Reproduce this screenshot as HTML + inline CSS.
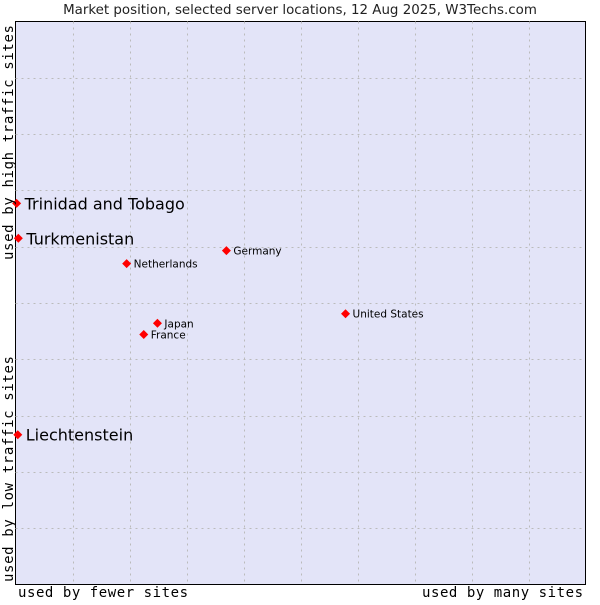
<!DOCTYPE html>
<html><head><meta charset="utf-8"><style>
body{margin:0;background:#fff;}
svg text{font-family:"DejaVu Sans","Liberation Sans",sans-serif;}
.mono{font-family:"DejaVu Sans Mono","Liberation Mono",monospace;}
</style></head><body>
<svg width="600" height="600">
<text x="300" y="14" text-anchor="middle" font-size="13.4" fill="#222">Market position, selected server locations, 12 Aug 2025, W3Techs.com</text>
<rect x="15.5" y="21.5" width="570" height="563" fill="#e3e4f8" stroke="#000"/>
<g id="grid"></g>
<g id="pts"></g>
<text class="mono" x="18" y="597" font-size="14" textLength="170">used by fewer sites</text>
<text class="mono" x="422" y="597" font-size="14" textLength="161">used by many sites</text>
<text class="mono" transform="translate(13,582) rotate(-90)" font-size="14" textLength="226">used by low traffic sites</text>
<text class="mono" transform="translate(13,260) rotate(-90)" font-size="14" textLength="235">used by high traffic sites</text>
</svg>
<script>
const names=["Trinidad and Tobago","Turkmenistan","Netherlands","Germany","United States","Japan","France","Liechtenstein"];
const xVals=[0.2,0.5,19.5,37.0,57.9,24.9,22.5,0.4];
const yVals=[67.7,61.5,57.0,59.3,48.1,46.4,44.4,26.6];
const highlighted=[true,true,false,false,false,false,false,true];
const L=15.5,R=585.5,T=21.5,B=584.5;
const sx=v=>L+v/100*(R-L), sy=v=>B-v/100*(B-T);
const NS="http://www.w3.org/2000/svg";
const g=document.getElementById('grid');
for(let i=1;i<10;i++){
 let l=document.createElementNS(NS,'line');
 let x=Math.round(sx(i*10))+0.5;
 l.setAttribute('x1',x);l.setAttribute('x2',x);l.setAttribute('y1',T);l.setAttribute('y2',B);
 l.setAttribute('stroke','#bbb');l.setAttribute('stroke-dasharray','2,4');
 
 
 g.appendChild(l);
 let h=document.createElementNS(NS,'line');
 let y=Math.round(sy(i*10))+0.5;
 h.setAttribute('y1',y);h.setAttribute('y2',y);h.setAttribute('x1',L);h.setAttribute('x2',R);
 h.setAttribute('stroke','#bbb');h.setAttribute('stroke-dasharray','2,4');
 
 
 g.appendChild(h);
}
const p=document.getElementById('pts');
names.forEach((n,i)=>{
 const x=sx(xVals[i]),y=sy(yVals[i]);
 const d=document.createElementNS(NS,'path');
 d.setAttribute('d',`M${x} ${y-4.5}L${x+4.5} ${y}L${x} ${y+4.5}L${x-4.5} ${y}Z`);
 d.setAttribute('fill','#f00');
 
 
 p.appendChild(d);
 const t=document.createElementNS(NS,'text');
 const big=highlighted[i];
 t.setAttribute('x',x+(big?8:7));t.setAttribute('y',y+(big?6:4));
 t.setAttribute('font-size',big?16:10.5);
 t.textContent=n;
 
 
 p.appendChild(t);
});
</script>
</body></html>
